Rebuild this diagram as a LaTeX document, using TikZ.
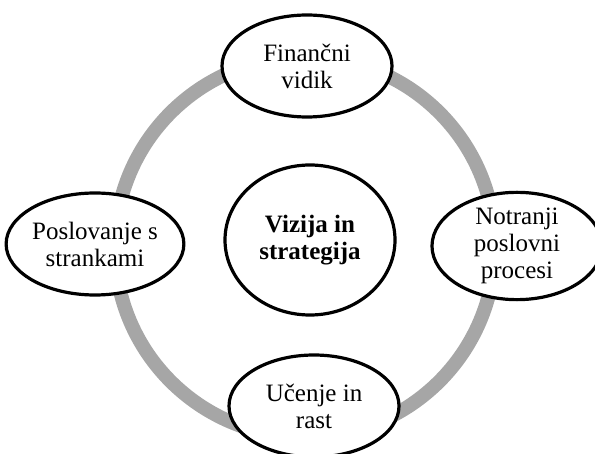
\documentclass[tikz,border=0pt]{standalone}
\usepackage{fontspec}
\setmainfont{Liberation Serif}
\usetikzlibrary{shapes.geometric}

\definecolor{ringgray}{RGB}{166,166,166}
\tikzset{
    persp/.style={ellipse, draw=black, line width=3.2pt, fill=white,
        minimum width=170pt, minimum height=102pt, inner sep=0pt,
        align=center, font=\fontsize{25}{27}\selectfont},
    core/.style={persp, minimum height=150pt,
        font=\fontsize{25}{27}\selectfont\bfseries}
}

\begin{document}
\begin{tikzpicture}[x=1pt,y=-1pt]
    \useasboundingbox (0,0) rectangle (595,454);

    % Ring
    \draw[ringgray, line width=14pt] (305,247) circle [radius=190pt];

    % Centre
    \node[core] (viz) at (310,240) {Vizija in\\strategija};

    % Perspectives
    \node[persp] (fin) at (307,66) {Finančni\\vidik};
    \node[persp] (notr) at (517,246) {Notranji\\poslovni\\procesi};
    \node[persp] (ucen) at (314,406) {Učenje in\\rast};
    \node[persp] (posl) at (95,244) {Poslovanje s\\strankami};
\end{tikzpicture}
\end{document}
